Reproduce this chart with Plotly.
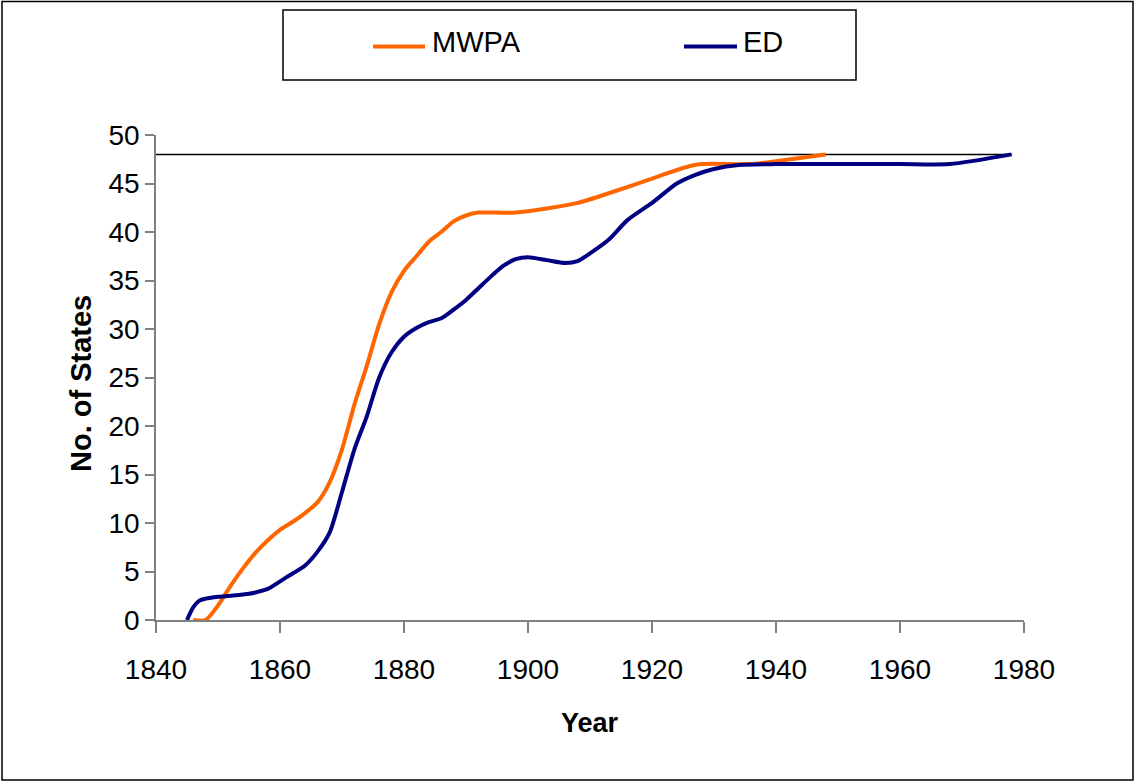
import plotly.graph_objects as go

# ---- data ----
mwpa_years = [1846, 1848, 1850, 1852, 1854, 1856, 1858, 1860, 1862, 1864, 1866, 1868,
              1870, 1872, 1874, 1876, 1878, 1880, 1882, 1884, 1886, 1888, 1890, 1892,
              1898, 1908, 1914, 1920, 1925, 1928, 1936, 1940, 1948]
mwpa_vals = [0, 0, 1.5, 3.5, 5.3, 6.9, 8.2, 9.3, 10.1, 11.0, 12.1, 14.2,
             17.6, 22.2, 26.2, 30.5, 33.8, 36.0, 37.5, 39.0, 40.0, 41.1, 41.7, 42.0,
             42.0, 43.0, 44.2, 45.5, 46.6, 47.0, 47.0, 47.3, 48]

ed_years = [1845, 1846, 1847, 1848, 1850, 1852, 1855, 1858, 1861, 1864, 1866, 1868,
            1870, 1872, 1874, 1876, 1878, 1880, 1882, 1884, 1886, 1888, 1890, 1892,
            1894, 1896, 1898, 1900, 1903, 1906, 1908, 1910, 1913, 1916, 1920, 1924,
            1927, 1930, 1934, 1940, 1950, 1960, 1968, 1978]
ed_vals = [0, 1.3, 2.0, 2.2, 2.4, 2.5, 2.7, 3.2, 4.4, 5.6, 7.0, 9.0,
           13.2, 17.6, 21.0, 25.0, 27.6, 29.2, 30.1, 30.7, 31.1, 32.0, 33.0, 34.2,
           35.4, 36.5, 37.2, 37.4, 37.1, 36.8, 37.0, 37.8, 39.2, 41.2, 43.0, 45.0,
           45.9, 46.5, 46.9, 47.0, 47.0, 47.0, 47.0, 48]

total_years = [1840, 1978]
total_states = [48, 48]

x_ticks = [1840, 1860, 1880, 1900, 1920, 1940, 1960, 1980]
y_ticks = [0, 5, 10, 15, 20, 25, 30, 35, 40, 45, 50]

series_names = ["MWPA", "ED"]
series_colors = ["#FF6600", "#000080"]
x_title = "Year"
y_title = "No. of States"

# ---- layout geometry (pixels) ----
W, H = 1135, 782
L, R, T, B = 156, 1024, 135, 620
pw, ph = R - L, B - T


def px(x):
    return (x - L) / pw


def py(y):
    return (B - y) / ph


font_fam = "Liberation Sans, Arial, sans-serif"

fig = go.Figure()
fig.add_trace(go.Scatter(x=total_years, y=total_states, mode="lines",
                         line=dict(color="black", width=1.5), showlegend=False,
                         hoverinfo="skip"))
fig.add_trace(go.Scatter(x=mwpa_years, y=mwpa_vals, mode="lines", name=series_names[0],
                         line=dict(color=series_colors[0], width=4, shape="spline", smoothing=0.7)))
fig.add_trace(go.Scatter(x=ed_years, y=ed_vals, mode="lines", name=series_names[1],
                         line=dict(color=series_colors[1], width=4, shape="spline", smoothing=0.7)))

axis_common = dict(showgrid=False, zeroline=False, showline=True, linecolor="#808080",
                   linewidth=1.5, ticks="outside", tickcolor="#808080", tickwidth=1.5,
                   tickfont=dict(family=font_fam, size=28, color="black"))

fig.update_xaxes(range=[1840, 1980], tickvals=x_ticks, ticklen=11, ticklabelstandoff=13,
                 **axis_common)
fig.update_yaxes(range=[0, 50], tickvals=y_ticks, ticklen=9, ticklabelstandoff=0,
                 **axis_common)

shapes = [
    # outer chart border
    dict(type="rect", xref="paper", yref="paper",
         x0=px(2), x1=px(1133), y0=py(780), y1=py(1.5),
         line=dict(color="black", width=1.5), fillcolor="rgba(0,0,0,0)", layer="below"),
    # legend box
    dict(type="rect", xref="paper", yref="paper",
         x0=px(283), x1=px(856), y0=py(80), y1=py(10),
         line=dict(color="black", width=1.5), fillcolor="white"),
]
annotations = [
    dict(xref="paper", yref="paper", x=px(590), y=py(723), text="<b>" + x_title + "</b>",
         showarrow=False, xanchor="center", yanchor="middle",
         font=dict(family=font_fam, size=27, color="black")),
    dict(xref="paper", yref="paper", x=px(81), y=py(384), text="<b>" + y_title + "</b>",
         showarrow=False, xanchor="center", yanchor="middle", textangle=-90,
         font=dict(family=font_fam, size=29, color="black")),
]
legend_swatch_x = [(373, 425), (684, 737)]
legend_text_x = [430, 741]
for name, color, (sx0, sx1), tx in zip(series_names, series_colors, legend_swatch_x, legend_text_x):
    shapes.append(dict(type="line", xref="paper", yref="paper",
                       x0=px(sx0), x1=px(sx1), y0=py(46.5), y1=py(46.5),
                       line=dict(color=color, width=4)))
    annotations.append(dict(xref="paper", yref="paper", x=px(tx), y=py(42),
                            text=name, showarrow=False, xanchor="left", yanchor="middle",
                            font=dict(family=font_fam, size=29, color="black")))

fig.update_layout(width=W, height=H, autosize=False,
                  margin=dict(l=L, r=W - R, t=T, b=H - B, pad=0),
                  plot_bgcolor="white", paper_bgcolor="white",
                  showlegend=False, shapes=shapes, annotations=annotations)

fig.write_html("out.html")
